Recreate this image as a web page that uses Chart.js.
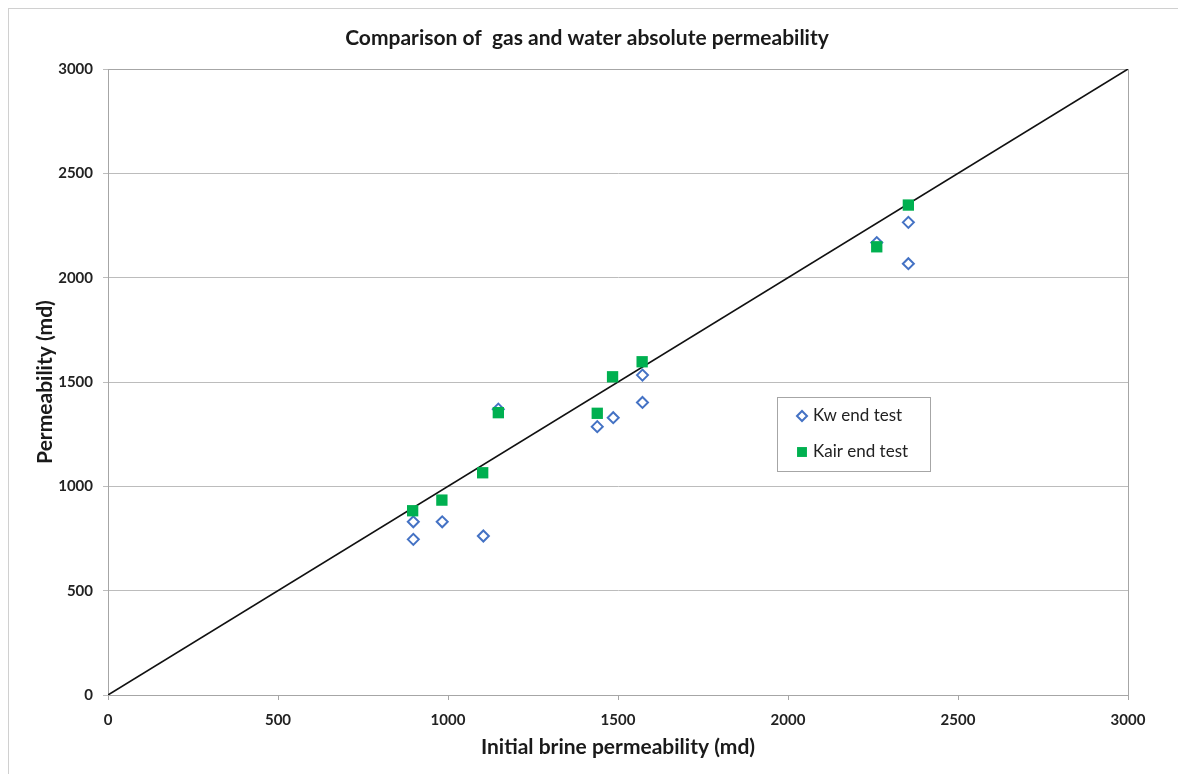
<!DOCTYPE html>
<html>
<head>
<meta charset="utf-8">
<script src="https://cdn.jsdelivr.net/npm/chart.js@4/dist/chart.umd.min.js"></script>
<style>
  body{margin:0;background:#fff;overflow:hidden;}
  #frame{position:absolute;left:8px;top:8px;width:1400px;height:1000px;border:1px solid #d0d0d0;}
  #chart{position:absolute;left:0;top:0;}
</style>
</head>
<body>
<div id="frame"></div>
<canvas id="chart" width="1178" height="774"></canvas>
<script>
// ================= DATA ==================
const chartTitle = "Comparison of  gas and water absolute permeability";
const xTitle = "Initial brine permeability (md)";
const yTitle = "Permeability (md)";

const kwLabel = "Kw end test";
const kwX = [898, 898, 983, 1104, 1148, 1439, 1486, 1572, 1572, 2261, 2354, 2354];
const kwY = [830, 746, 830, 762, 1370, 1286, 1329, 1533, 1402, 2168, 2265, 2067];

const kairLabel = "Kair end test";
const kairX = [896, 982, 1102, 1148, 1439, 1484, 1571, 2261, 2354];
const kairY = [883, 934, 1065, 1353, 1350, 1525, 1597, 2148, 2348];

// 1:1 reference line
const lineX = [0, 3000];
const lineY = [0, 3000];

const axisMin = 0;
const axisMax = 3000;
const axisStep = 500;

const FONT = "Lato, 'Liberation Sans', sans-serif";
const toPoints = (xs, ys) => xs.map((x, i) => ({x: x, y: ys[i]}));

// ================= PLUGINS ==================
// grey border round the plot area
const plotBorder = {
  id: "plotBorder",
  beforeDatasetsDraw(chart){
    const {left, top, right, bottom} = chart.chartArea;
    const ctx = chart.ctx;
    ctx.save();
    ctx.strokeStyle = "#a6a6a6";
    ctx.lineWidth = 1;
    ctx.strokeRect(left + 0.5, top + 0.5, right - left, bottom - top);
    ctx.restore();
  }
};

// boxed legend sitting inside the plot, like the Excel one
const insideLegend = {
  id: "insideLegend",
  afterDatasetsDraw(chart, args, opts){
    const ctx = chart.ctx;
    const items = chart.data.datasets.filter(d => d.showInLegend);
    ctx.save();
    ctx.fillStyle = "#fff";
    ctx.fillRect(opts.x, opts.y, opts.w, opts.h);
    ctx.strokeStyle = "#a6a6a6";
    ctx.lineWidth = 1;
    ctx.strokeRect(opts.x + 0.5, opts.y + 0.5, opts.w, opts.h);
    items.forEach((d, i) => {
      const cy = opts.y + opts.firstRow + i * opts.rowGap;
      const mx = opts.x + opts.markerX;
      ctx.fillStyle = d.backgroundColor;
      ctx.strokeStyle = d.borderColor;
      ctx.lineWidth = d.borderWidth;
      Chart.helpers.drawPoint(ctx, {
        pointStyle: d.pointStyle,
        radius: d.legendRadius,
        rotation: 0,
        borderWidth: d.borderWidth
      }, mx, cy);
      ctx.fillStyle = "#222";
      ctx.font = "17px " + FONT;
      ctx.textBaseline = "middle";
      ctx.textAlign = "left";
      ctx.fillText(d.label, opts.x + opts.textX, cy);
    });
    ctx.restore();
  }
};

// ================= CHART ==================
const ctx = document.getElementById("chart");
const plainTick = v => String(v);

let chart = new Chart(ctx, {
  type: "scatter",
  data: {
    datasets: [
      {
        label: kwLabel,
        data: toPoints(kwX, kwY),
        pointStyle: "rectRot",
        pointRadius: 5.5,
        legendRadius: 5,
        backgroundColor: "#ffffff",
        borderColor: "#4472c4",
        borderWidth: 2,
        showInLegend: true,
        order: 2
      },
      {
        label: kairLabel,
        data: toPoints(kairX, kairY),
        pointStyle: "rect",
        pointRadius: 8,
        legendRadius: 7,
        backgroundColor: "#00b050",
        borderColor: "#00b050",
        borderWidth: 0,
        showInLegend: true,
        order: 1
      },
      {
        type: "line",
        label: "1:1",
        data: toPoints(lineX, lineY),
        borderColor: "#111",
        borderWidth: 1.6,
        pointRadius: 0,
        fill: false,
        showInLegend: false,
        order: 3
      }
    ]
  },
  options: {
    responsive: false,
    animation: false,
    events: [],
    layout: {padding: {left: 10, right: 14, top: 0, bottom: 0}},
    plugins: {
      legend: {display: false},
      tooltip: {enabled: false},
      title: {
        display: true,
        text: chartTitle,
        color: "#1a1a1a",
        font: {family: FONT, size: 21, weight: "bold", lineHeight: 1.2},
        padding: {top: 26, bottom: 17.8}
      },
      insideLegend: {
        x: 777, y: 397, w: 153, h: 74,
        markerX: 25, textX: 36, firstRow: 19, rowGap: 36
      }
    },
    scales: {
      x: {
        type: "linear",
        min: axisMin,
        max: axisMax,
        afterFit: s => { s.height = 79; },
        ticks: {
          stepSize: axisStep,
          callback: plainTick,
          color: "#222",
          padding: 11,
          font: {family: FONT, size: 15, weight: "bold"}
        },
        grid: {drawOnChartArea: false, tickLength: 5, color: "#a6a6a6"},
        border: {color: "#a6a6a6"},
        title: {
          display: true,
          text: xTitle,
          color: "#1a1a1a",
          font: {family: FONT, size: 21, weight: "bold", lineHeight: 1.2},
          padding: {top: 0, bottom: 14.4}
        }
      },
      y: {
        type: "linear",
        min: axisMin,
        max: axisMax,
        afterFit: s => { s.width = 98; },
        ticks: {
          stepSize: axisStep,
          callback: plainTick,
          color: "#222",
          padding: 10,
          font: {family: FONT, size: 15, weight: "bold"}
        },
        grid: {tickLength: 5, color: "#bcbcbc"},
        border: {color: "#a6a6a6"},
        title: {
          display: true,
          text: yTitle,
          color: "#1a1a1a",
          font: {family: FONT, size: 21, weight: "bold", lineHeight: 1.2},
          padding: {top: 22.4, bottom: 0}
        }
      },
      // empty right-hand strip so the title centres on the whole chart
      yRight: {
        type: "linear",
        position: "right",
        min: axisMin,
        max: axisMax,
        afterFit: s => { s.width = 36; },
        ticks: {display: false},
        grid: {display: false},
        border: {display: false}
      }
    }
  },
  plugins: [plotBorder, insideLegend]
});
</script>
</body>
</html>
